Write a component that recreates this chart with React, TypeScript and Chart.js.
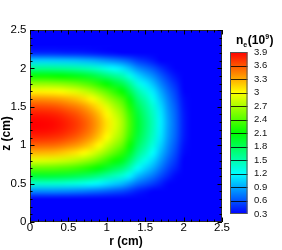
import React, { useEffect, useRef } from 'react';
import { Chart, registerables } from 'chart.js';

Chart.register(...registerables);

// ---------- data ----------
const rValues = [0, 0.1, 0.2, 0.3, 0.4, 0.5, 0.6, 0.7, 0.8, 0.9, 1.0, 1.1, 1.2, 1.3, 1.4, 1.5, 1.6, 1.7, 1.8, 1.9, 2.0, 2.1, 2.2, 2.3, 2.4, 2.5];
const zValues = [0, 0.1, 0.2, 0.3, 0.4, 0.5, 0.6, 0.7, 0.8, 0.9, 1.0, 1.1, 1.2, 1.3, 1.4, 1.5, 1.6, 1.7, 1.8, 1.9, 2.0, 2.1, 2.2, 2.3, 2.4, 2.5];

// n_e (10^9) — one row per z value (z = 0 first), one column per r value
const neGrid: number[][] = [
  [0, 0, 0, 0, 0, 0, 0, 0, 0, 0, 0, 0, 0, 0, 0, 0, 0, 0, 0, 0, 0, 0, 0, 0, 0, 0],
  [0, 0, 0, 0, 0, 0, 0, 0, 0, 0, 0, 0, 0, 0, 0, 0, 0, 0, 0, 0, 0, 0, 0, 0, 0, 0],
  [0, 0, 0, 0, 0, 0, 0, 0, 0, 0, 0, 0, 0, 0, 0, 0, 0, 0, 0, 0, 0, 0, 0, 0, 0, 0],
  [0.18, 0.18, 0.18, 0.18, 0.18, 0.18, 0.17, 0.17, 0.16, 0.16, 0.15, 0.14, 0.13, 0.11, 0.09, 0.08, 0.07, 0.05, 0.04, 0.03, 0.02, 0.01, 0, 0, 0, 0],
  [0.79, 0.79, 0.79, 0.79, 0.78, 0.77, 0.75, 0.73, 0.70, 0.67, 0.63, 0.59, 0.55, 0.48, 0.40, 0.35, 0.29, 0.23, 0.18, 0.13, 0.08, 0.04, 0.02, 0, 0, 0],
  [1.38, 1.38, 1.38, 1.37, 1.36, 1.33, 1.31, 1.27, 1.23, 1.17, 1.10, 1.03, 0.96, 0.83, 0.69, 0.60, 0.51, 0.41, 0.31, 0.23, 0.14, 0.07, 0.03, 0, 0, 0],
  [1.93, 1.93, 1.93, 1.92, 1.90, 1.87, 1.83, 1.78, 1.72, 1.63, 1.53, 1.44, 1.34, 1.16, 0.97, 0.84, 0.72, 0.57, 0.43, 0.32, 0.20, 0.10, 0.04, 0, 0, 0],
  [2.44, 2.44, 2.43, 2.42, 2.39, 2.36, 2.31, 2.25, 2.17, 2.06, 1.94, 1.81, 1.69, 1.47, 1.22, 1.06, 0.91, 0.72, 0.54, 0.41, 0.25, 0.13, 0.05, 0, 0, 0],
  [2.89, 2.89, 2.88, 2.86, 2.83, 2.79, 2.74, 2.66, 2.57, 2.44, 2.29, 2.15, 2.00, 1.74, 1.44, 1.26, 1.07, 0.85, 0.64, 0.48, 0.30, 0.15, 0.06, 0, 0, 0],
  [3.26, 3.26, 3.25, 3.24, 3.20, 3.15, 3.09, 3.01, 2.90, 2.76, 2.59, 2.42, 2.26, 1.96, 1.63, 1.42, 1.21, 0.96, 0.73, 0.54, 0.33, 0.17, 0.07, 0, 0, 0],
  [3.55, 3.55, 3.54, 3.53, 3.49, 3.43, 3.37, 3.28, 3.16, 3.01, 2.82, 2.64, 2.46, 2.14, 1.78, 1.55, 1.32, 1.05, 0.79, 0.59, 0.36, 0.18, 0.07, 0, 0, 0],
  [3.76, 3.76, 3.75, 3.73, 3.70, 3.64, 3.57, 3.47, 3.35, 3.18, 2.99, 2.80, 2.61, 2.27, 1.88, 1.64, 1.40, 1.11, 0.84, 0.63, 0.39, 0.19, 0.08, 0, 0, 0],
  [3.88, 3.88, 3.87, 3.85, 3.81, 3.75, 3.68, 3.58, 3.45, 3.28, 3.08, 2.88, 2.68, 2.34, 1.94, 1.69, 1.44, 1.14, 0.86, 0.65, 0.40, 0.20, 0.08, 0, 0, 0],
  [3.90, 3.90, 3.89, 3.87, 3.83, 3.77, 3.70, 3.60, 3.47, 3.30, 3.10, 2.90, 2.70, 2.35, 1.95, 1.70, 1.45, 1.15, 0.87, 0.65, 0.40, 0.20, 0.08, 0, 0, 0],
  [3.82, 3.82, 3.81, 3.79, 3.75, 3.69, 3.62, 3.52, 3.40, 3.23, 3.03, 2.84, 2.64, 2.30, 1.91, 1.66, 1.42, 1.13, 0.85, 0.64, 0.39, 0.20, 0.08, 0, 0, 0],
  [3.65, 3.65, 3.64, 3.62, 3.58, 3.52, 3.46, 3.37, 3.24, 3.09, 2.90, 2.71, 2.52, 2.20, 1.82, 1.59, 1.36, 1.08, 0.81, 0.61, 0.37, 0.19, 0.07, 0, 0, 0],
  [3.39, 3.39, 3.38, 3.36, 3.33, 3.28, 3.22, 3.13, 3.02, 2.87, 2.69, 2.52, 2.35, 2.04, 1.69, 1.48, 1.26, 1.00, 0.76, 0.56, 0.35, 0.17, 0.07, 0, 0, 0],
  [3.04, 3.04, 3.03, 3.02, 2.99, 2.94, 2.89, 2.81, 2.71, 2.57, 2.42, 2.26, 2.11, 1.83, 1.52, 1.33, 1.13, 0.90, 0.68, 0.51, 0.31, 0.16, 0.06, 0, 0, 0],
  [2.62, 2.62, 2.62, 2.60, 2.58, 2.54, 2.49, 2.42, 2.34, 2.22, 2.09, 1.95, 1.82, 1.58, 1.31, 1.14, 0.98, 0.77, 0.59, 0.44, 0.27, 0.13, 0.05, 0, 0, 0],
  [2.14, 2.14, 2.14, 2.12, 2.10, 2.07, 2.03, 1.98, 1.91, 1.81, 1.70, 1.59, 1.48, 1.29, 1.07, 0.93, 0.80, 0.63, 0.48, 0.36, 0.22, 0.11, 0.04, 0, 0, 0],
  [1.60, 1.60, 1.60, 1.59, 1.57, 1.55, 1.52, 1.48, 1.43, 1.36, 1.27, 1.19, 1.11, 0.97, 0.80, 0.70, 0.60, 0.47, 0.36, 0.27, 0.16, 0.08, 0.03, 0, 0, 0],
  [1.03, 1.03, 1.03, 1.02, 1.01, 1.00, 0.98, 0.95, 0.92, 0.87, 0.82, 0.77, 0.71, 0.62, 0.51, 0.45, 0.38, 0.30, 0.23, 0.17, 0.11, 0.05, 0.02, 0, 0, 0],
  [0.43, 0.43, 0.43, 0.43, 0.42, 0.41, 0.41, 0.40, 0.38, 0.36, 0.34, 0.32, 0.30, 0.26, 0.21, 0.19, 0.16, 0.13, 0.10, 0.07, 0.04, 0.02, 0.01, 0, 0, 0],
  [0, 0, 0, 0, 0, 0, 0, 0, 0, 0, 0, 0, 0, 0, 0, 0, 0, 0, 0, 0, 0, 0, 0, 0, 0, 0],
  [0, 0, 0, 0, 0, 0, 0, 0, 0, 0, 0, 0, 0, 0, 0, 0, 0, 0, 0, 0, 0, 0, 0, 0, 0, 0],
  [0, 0, 0, 0, 0, 0, 0, 0, 0, 0, 0, 0, 0, 0, 0, 0, 0, 0, 0, 0, 0, 0, 0, 0, 0, 0],
];

const levels = [0.3, 0.6, 0.9, 1.2, 1.5, 1.8, 2.1, 2.4, 2.7, 3.0, 3.3, 3.6, 3.9];
const levelLabels = ['0.3', '0.6', '0.9', '1.2', '1.5', '1.8', '2.1', '2.4', '2.7', '3', '3.3', '3.6', '3.9'];
const axisTicks = [0, 0.5, 1, 1.5, 2, 2.5];
const axisTickLabels = ['0', '0.5', '1', '1.5', '2', '2.5'];
const minorTicks = [0, 0.1, 0.2, 0.3, 0.4, 0.5, 0.6, 0.7, 0.8, 0.9, 1.0, 1.1, 1.2, 1.3, 1.4, 1.5, 1.6, 1.7, 1.8, 1.9, 2.0, 2.1, 2.2, 2.3, 2.4, 2.5];
const xTitle = 'r (cm)';
const yTitle = 'z (cm)';
const cbTitleParts = { base: 'n', sub: 'e', mid: '(10', sup: '9', end: ')' };

// ---------- styling ----------
const FONT = "'Liberation Sans', Arial, Helvetica, sans-serif";
const VMIN = levels[0];
const VMAX = levels[levels.length - 1];
const RAINBOW = ['#0000ff', '#00ffff', '#00ff00', '#ffff00', '#ff0000'];

function rainbow(v: number): [number, number, number] {
  let t = (v - VMIN) / (VMAX - VMIN);
  if (t < 0) t = 0;
  if (t > 1) t = 1;
  const s = t * 4;
  const i = Math.min(3, Math.floor(s));
  const f = s - i;
  if (i === 0) return [0, 255 * f, 255];
  if (i === 1) return [0, 255, 255 * (1 - f)];
  if (i === 2) return [255 * f, 255, 0];
  return [255, 255 * (1 - f), 0];
}

const heatmapPlugin = {
  id: 'heatmap',
  beforeDatasetsDraw(chart: any) {
    const { ctx, chartArea, scales } = chart;
    const xs = scales.x;
    const ys = scales.y;
    const nc = rValues.length;
    const nr = zValues.length;
    const off = document.createElement('canvas');
    off.width = nc;
    off.height = nr;
    const octx = off.getContext('2d')!;
    const img = octx.createImageData(nc, nr);
    for (let j = 0; j < nr; j++) {
      for (let i = 0; i < nc; i++) {
        const [r, g, b] = rainbow(neGrid[j][i]);
        const idx = ((nr - 1 - j) * nc + i) * 4;
        img.data[idx] = Math.round(r);
        img.data[idx + 1] = Math.round(g);
        img.data[idx + 2] = Math.round(b);
        img.data[idx + 3] = 255;
      }
    }
    octx.putImageData(img, 0, 0);
    const dr = rValues[1] - rValues[0];
    const dz = zValues[1] - zValues[0];
    const x0 = xs.getPixelForValue(rValues[0] - dr / 2);
    const x1 = xs.getPixelForValue(rValues[nc - 1] + dr / 2);
    const y0 = ys.getPixelForValue(zValues[nr - 1] + dz / 2);
    const y1 = ys.getPixelForValue(zValues[0] - dz / 2);
    ctx.save();
    ctx.beginPath();
    ctx.rect(chartArea.left, chartArea.top, chartArea.right - chartArea.left, chartArea.bottom - chartArea.top);
    ctx.clip();
    ctx.fillStyle = RAINBOW[0];
    ctx.fillRect(chartArea.left, chartArea.top, chartArea.right - chartArea.left, chartArea.bottom - chartArea.top);
    ctx.imageSmoothingEnabled = true;
    (ctx as any).imageSmoothingQuality = 'high';
    ctx.drawImage(off, x0, y0, x1 - x0, y1 - y0);
    ctx.restore();
  },
};

const framePlugin = {
  id: 'frame',
  afterDraw(chart: any) {
    const { ctx, chartArea, scales } = chart;
    const xs = scales.x;
    const ys = scales.y;
    const { left, right, top, bottom } = chartArea;
    ctx.save();
    // border
    ctx.strokeStyle = '#2a2a2a';
    ctx.lineWidth = 1;
    ctx.strokeRect(left + 0.5, top + 0.5, right - left - 1, bottom - top - 1);
    // inward ticks on all four sides
    ctx.strokeStyle = '#000';
    ctx.beginPath();
    for (const v of minorTicks) {
      const major = axisTicks.some((t) => Math.abs(t - v) < 1e-6);
      const len = major ? 4.5 : 2.5;
      const px = Math.round(xs.getPixelForValue(v)) + 0.5;
      const py = Math.round(ys.getPixelForValue(v)) + 0.5;
      ctx.moveTo(px, bottom);
      ctx.lineTo(px, bottom - len);
      ctx.moveTo(px, top);
      ctx.lineTo(px, top + len);
      ctx.moveTo(left, py);
      ctx.lineTo(left + len, py);
      ctx.moveTo(right, py);
      ctx.lineTo(right - len, py);
    }
    ctx.stroke();

    // y axis title
    ctx.fillStyle = '#000';
    ctx.font = `bold 12px ${FONT}`;
    ctx.textAlign = 'center';
    ctx.textBaseline = 'middle';
    ctx.translate(6.5, (top + bottom) / 2 + 7.5);
    ctx.rotate(-Math.PI / 2);
    ctx.fillText(yTitle, 0, 0);
    ctx.restore();

    // colour bar
    const cbX = 230;
    const cbW = 17.5;
    const cbTop = 52;
    const cbBottom = 214;
    const cbY = (v: number) => cbBottom - ((v - VMIN) / (VMAX - VMIN)) * (cbBottom - cbTop);
    ctx.save();
    const grad = ctx.createLinearGradient(0, cbBottom, 0, cbTop);
    RAINBOW.forEach((c, i) => grad.addColorStop(i / (RAINBOW.length - 1), c));
    ctx.fillStyle = grad;
    ctx.fillRect(cbX, cbTop, cbW, cbBottom - cbTop);
    ctx.strokeStyle = 'rgba(0,0,0,0.8)';
    ctx.lineWidth = 1;
    ctx.beginPath();
    for (let i = 1; i < levels.length - 1; i++) {
      const y = Math.round(cbY(levels[i])) + 0.5;
      ctx.moveTo(cbX, y);
      ctx.lineTo(cbX + cbW, y);
    }
    ctx.stroke();
    ctx.strokeStyle = '#555';
    ctx.strokeRect(cbX + 0.5, cbTop + 0.5, cbW - 1, cbBottom - cbTop - 1);

    ctx.fillStyle = '#111';
    ctx.font = `9.5px ${FONT}`;
    ctx.textAlign = 'left';
    ctx.textBaseline = 'middle';
    levels.forEach((v, i) => ctx.fillText(levelLabels[i], 254, cbY(v)));

    // colour bar title: n_e(10^9)
    ctx.fillStyle = '#000';
    ctx.textBaseline = 'alphabetic';
    let x = 236;
    const base = 44;
    ctx.font = `bold 12px ${FONT}`;
    ctx.fillText(cbTitleParts.base, x, base);
    x += ctx.measureText(cbTitleParts.base).width;
    ctx.font = `bold 7px ${FONT}`;
    ctx.fillText(cbTitleParts.sub, x, base + 2.5);
    x += ctx.measureText(cbTitleParts.sub).width + 0.5;
    ctx.font = `bold 12px ${FONT}`;
    ctx.fillText(cbTitleParts.mid, x, base);
    x += ctx.measureText(cbTitleParts.mid).width + 0.3;
    ctx.font = `bold 7px ${FONT}`;
    ctx.fillText(cbTitleParts.sup, x, base - 5.5);
    x += ctx.measureText(cbTitleParts.sup).width + 0.3;
    ctx.font = `bold 12px ${FONT}`;
    ctx.fillText(cbTitleParts.end, x, base);
    ctx.restore();
  },
};

function tickLabel(v: number | string) {
  const n = Number(v);
  const i = axisTicks.findIndex((t) => Math.abs(t - n) < 1e-6);
  return i >= 0 ? axisTickLabels[i] : '';
}

export default function App() {
  const ref = useRef<HTMLCanvasElement>(null);
  useEffect(() => {
    const points: { x: number; y: number; v: number }[] = [];
    zValues.forEach((z, j) => rValues.forEach((r, i) => points.push({ x: r, y: z, v: neGrid[j][i] })));
    const chart = new Chart(ref.current!, {
      type: 'scatter',
      data: {
        datasets: [
          {
            label: 'n_e',
            data: points,
            pointRadius: 0,
            pointHoverRadius: 0,
            showLine: false,
          },
        ],
      },
      options: {
        animation: false,
        responsive: false,
        devicePixelRatio: 1,
        events: [],
        layout: { padding: { left: 0, top: 30, right: 60, bottom: 0 } },
        plugins: {
          legend: { display: false },
          tooltip: { enabled: false },
        },
        scales: {
          x: {
            type: 'linear',
            position: 'bottom',
            min: 0,
            max: 2.5,
            afterFit: (s: any) => {
              s.height = 28;
            },
            ticks: {
              stepSize: 0.5,
              autoSkip: false,
              maxRotation: 0,
              padding: 0,
              color: '#000',
              font: { family: FONT, size: 11.5, lineHeight: 1 },
              callback: tickLabel,
            },
            grid: { display: false, drawTicks: false },
            border: { display: false },
            title: {
              display: true,
              text: xTitle,
              color: '#000',
              font: { family: FONT, size: 12, weight: 'bold', lineHeight: 1.2 },
              padding: { top: 0, bottom: 1 },
            },
          },
          y: {
            type: 'linear',
            position: 'left',
            min: 0,
            max: 2.5,
            afterFit: (s: any) => {
              s.width = 30;
            },
            ticks: {
              stepSize: 0.5,
              autoSkip: false,
              padding: 3.5,
              color: '#000',
              font: { family: FONT, size: 11.5, lineHeight: 1 },
              callback: tickLabel,
            },
            grid: { display: false, drawTicks: false },
            border: { display: false },
          },
        },
      } as any,
      plugins: [heatmapPlugin, framePlugin],
    });
    return () => chart.destroy();
  }, []);
  return (
    <div style={{ position: 'fixed', left: 0, top: 0, width: 282, height: 250, background: '#fff' }}>
      <canvas ref={ref} width={282} height={250} style={{ display: 'block', width: 282, height: 250 }} />
    </div>
  );
}
